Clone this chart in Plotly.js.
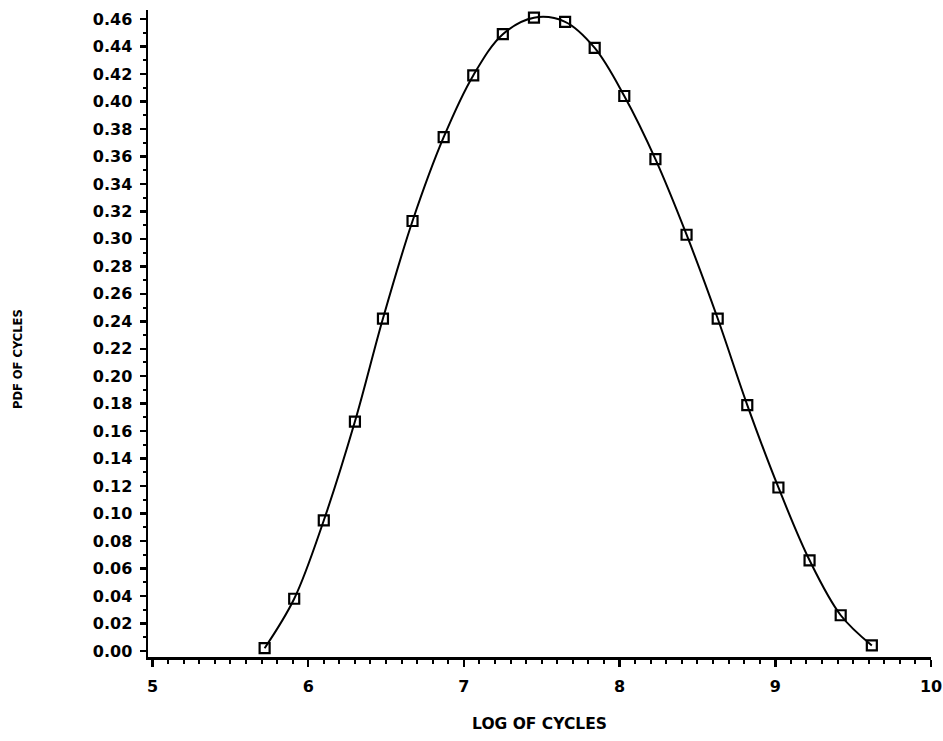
<!DOCTYPE html>
<html>
<head>
<meta charset="utf-8">
<script src="https://cdn.plot.ly/plotly-3.0.1.min.js"></script>
<style>html,body{margin:0;padding:0;background:#fff;}#chart{width:943px;height:741px;}</style>
</head>
<body>
<div id="chart"></div>
<script>
var logCycles = [5.72, 5.91, 6.10, 6.30, 6.48, 6.67, 6.87, 7.06, 7.25, 7.45, 7.65, 7.84, 8.03, 8.23, 8.43, 8.63, 8.82, 9.02, 9.22, 9.42, 9.62];
var pdfCycles = [0.002, 0.038, 0.095, 0.167, 0.242, 0.313, 0.374, 0.419, 0.449, 0.461, 0.458, 0.439, 0.404, 0.358, 0.303, 0.242, 0.179, 0.119, 0.066, 0.026, 0.004];
var yTickVals = [];
var yTickText = [];
for (var i = 0; i <= 23; i++) { yTickVals.push(i * 0.02); yTickText.push((i * 0.02).toFixed(2)); }
var xTickVals = [5, 6, 7, 8, 9, 10];
var xTickText = ['5', '6', '7', '8', '9', '10'];
var xTitle = 'LOG OF CYCLES';
var yTitle = 'PDF OF CYCLES';

var tickFont = {family: 'DejaVu Sans, sans-serif', size: 16, color: '#000', weight: 'bold'};

var traces = [
  {x: logCycles, y: pdfCycles, mode: 'lines', line: {color: '#000', width: 2, shape: 'spline', smoothing: 1}, hoverinfo: 'skip', showlegend: false},
  {x: logCycles, y: pdfCycles, mode: 'markers', marker: {symbol: 'square-open', size: 10, color: '#000', line: {color: '#000', width: 2.2}}, showlegend: false}
];

var layout = {
  width: 943, height: 741,
  margin: {l: 148, r: 12, t: 10, b: 84},
  paper_bgcolor: '#fff', plot_bgcolor: '#fff',
  showlegend: false,
  xaxis: {
    range: [4.971, 10.0], showgrid: false, zeroline: false, automargin: false,
    showline: true, linecolor: '#000', linewidth: 2.5,
    tickmode: 'array', tickvals: xTickVals, ticktext: xTickText,
    ticks: 'outside', ticklen: 7, tickwidth: 2.5, tickcolor: '#000',
    ticklabelstandoff: 6,
    minor: {dtick: 0.1, tick0: 5, ticks: 'outside', ticklen: 4, tickwidth: 2, tickcolor: '#000', showgrid: false},
    tickfont: tickFont,
    title: {text: xTitle, font: {family: 'DejaVu Sans, sans-serif', size: 15.5, color: '#000', weight: 'bold'}, standoff: 24}
  },
  yaxis: {
    range: [-0.0044, 0.4666], showgrid: false, zeroline: false, automargin: false,
    showline: true, linecolor: '#000', linewidth: 2.5,
    tickmode: 'array', tickvals: yTickVals, ticktext: yTickText,
    ticks: 'outside', ticklen: 6, tickwidth: 2.5, tickcolor: '#000',
    ticklabelstandoff: 4,
    minor: {dtick: 0.01, tick0: 0, ticks: 'outside', ticklen: 3, tickwidth: 2, tickcolor: '#000', showgrid: false},
    tickfont: tickFont
  },
  annotations: [{
    text: yTitle, textangle: -90, showarrow: false,
    xref: 'paper', yref: 'paper', x: -0.166, y: 0.4606, xanchor: 'center', yanchor: 'middle',
    font: {family: 'DejaVu Sans, sans-serif', size: 11.5, color: '#000', weight: 'bold'}
  }]
};
Plotly.newPlot('chart', traces, layout, {displayModeBar: false, staticPlot: true});
</script>
</body>
</html>
